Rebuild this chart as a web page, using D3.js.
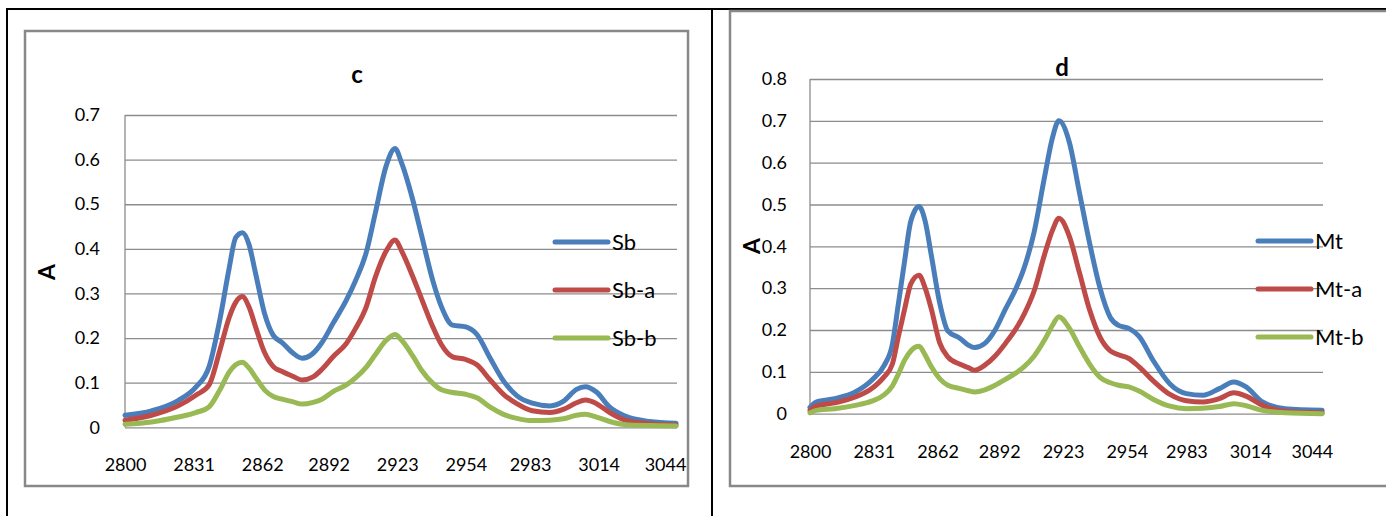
<!DOCTYPE html>
<html>
<head>
<meta charset="utf-8">
<script src="https://cdn.jsdelivr.net/npm/d3@7"></script>
<style>
  body { margin: 0; background: #fff; }
  svg text { font-family: Lato, "Open Sans", sans-serif; fill: #000; }
</style>
</head>
<body>
<svg id="chart" width="1386" height="516"></svg>
<script>
// tick labels shared by both panels
var xTickLabels = [2800, 2831, 2862, 2892, 2923, 2954, 2983, 3014, 3044];
var yTicksC = [0, 0.1, 0.2, 0.3, 0.4, 0.5, 0.6, 0.7];
var yTicksD = [0, 0.1, 0.2, 0.3, 0.4, 0.5, 0.6, 0.7, 0.8];

// panel c : wavenumbers and absorbance of the three samples
var waveC = [2800, 2812, 2824, 2832, 2838, 2843, 2847, 2850, 2853, 2856, 2859, 2863, 2867, 2871, 2876, 2880,
             2885, 2889, 2894, 2900, 2904, 2909, 2913, 2918, 2922, 2925, 2930, 2934, 2939, 2943, 2948, 2954,
             2959, 2965, 2971, 2977, 2984, 2992, 2998, 3004, 3008, 3013, 3019, 3026, 3037, 3049];
var sb  = [0.027, 0.037, 0.060, 0.090, 0.136, 0.245, 0.355, 0.425, 0.436, 0.410, 0.345, 0.256, 0.206, 0.190, 0.166, 0.155,
           0.166, 0.190, 0.233, 0.285, 0.327, 0.392, 0.478, 0.586, 0.625, 0.592, 0.510, 0.430, 0.330, 0.270, 0.229, 0.225,
           0.208, 0.155, 0.104, 0.071, 0.054, 0.048, 0.058, 0.085, 0.091, 0.079, 0.045, 0.025, 0.013, 0.009];
var sbA = [0.016, 0.027, 0.048, 0.072, 0.095, 0.175, 0.245, 0.280, 0.293, 0.270, 0.225, 0.168, 0.136, 0.125, 0.114, 0.106,
           0.113, 0.130, 0.158, 0.188, 0.220, 0.270, 0.335, 0.395, 0.420, 0.395, 0.338, 0.288, 0.226, 0.185, 0.158, 0.152,
           0.140, 0.106, 0.074, 0.053, 0.037, 0.033, 0.040, 0.055, 0.061, 0.053, 0.033, 0.016, 0.008, 0.005];
var sbB = [0.007, 0.012, 0.023, 0.033, 0.046, 0.085, 0.123, 0.140, 0.146, 0.133, 0.112, 0.084, 0.069, 0.063, 0.057, 0.052,
           0.056, 0.063, 0.080, 0.095, 0.110, 0.135, 0.162, 0.195, 0.208, 0.195, 0.160, 0.128, 0.099, 0.084, 0.078, 0.074,
           0.066, 0.045, 0.029, 0.020, 0.015, 0.016, 0.019, 0.027, 0.029, 0.023, 0.013, 0.006, 0.004, 0.003];

// panel d
var waveD = [2800, 2803, 2812, 2822, 2830, 2836, 2840, 2843, 2846, 2849, 2853, 2856, 2859, 2863, 2867, 2873,
             2877, 2880, 2885, 2890, 2895, 2900, 2904, 2909, 2914, 2918, 2921, 2926, 2931, 2936, 2941, 2946,
             2950, 2955, 2960, 2967, 2975, 2983, 2991, 2999, 3006, 3012, 3020, 3031, 3049];
var mt  = [0.015, 0.028, 0.036, 0.052, 0.080, 0.115, 0.165, 0.264, 0.365, 0.460, 0.495, 0.460, 0.378, 0.266, 0.198, 0.180,
           0.164, 0.158, 0.168, 0.200, 0.250, 0.298, 0.347, 0.435, 0.565, 0.662, 0.700, 0.650, 0.528, 0.406, 0.300, 0.230,
           0.211, 0.204, 0.185, 0.126, 0.071, 0.048, 0.044, 0.060, 0.076, 0.064, 0.028, 0.012, 0.008];
var mtA = [0.008, 0.018, 0.026, 0.040, 0.060, 0.088, 0.118, 0.185, 0.250, 0.310, 0.331, 0.300, 0.250, 0.170, 0.136, 0.118,
           0.110, 0.104, 0.116, 0.138, 0.168, 0.202, 0.237, 0.294, 0.380, 0.440, 0.467, 0.425, 0.337, 0.247, 0.183, 0.150,
           0.141, 0.132, 0.112, 0.078, 0.046, 0.031, 0.028, 0.036, 0.050, 0.042, 0.020, 0.006, 0.002];
var mtB = [0.002, 0.008, 0.012, 0.020, 0.030, 0.045, 0.066, 0.095, 0.128, 0.150, 0.161, 0.140, 0.112, 0.084, 0.068, 0.060,
           0.055, 0.052, 0.057, 0.068, 0.082, 0.097, 0.112, 0.138, 0.176, 0.212, 0.232, 0.205, 0.160, 0.118, 0.087, 0.074,
           0.068, 0.064, 0.054, 0.034, 0.018, 0.012, 0.013, 0.017, 0.024, 0.019, 0.008, 0.002, 0.000];

var colors = ["#4a7ebb", "#be4b48", "#98b954"];
var svg = d3.select("#chart");

// black frame of the figure table
svg.append("g").attr("stroke", "#000").attr("stroke-width", 2)
  .selectAll("line")
  .data([[6, 9, 1386, 9], [7, 8, 7, 516], [712, 8, 712, 516]])
  .enter().append("line")
    .attr("x1", function(d) { return d[0]; }).attr("y1", function(d) { return d[1]; })
    .attr("x2", function(d) { return d[2]; }).attr("y2", function(d) { return d[3]; });

function drawPanel(p) {
  // outer chart border
  svg.append("rect")
    .attr("x", p.box[0]).attr("y", p.box[1])
    .attr("width", p.box[2]).attr("height", p.box[3])
    .attr("fill", "none").attr("stroke", "#888").attr("stroke-width", 2.5);

  var width = p.right - p.left,
      height = p.bottom - p.top;
  var g = svg.append("g").attr("transform", "translate(" + p.left + "," + p.top + ")");

  var x = d3.scaleLinear().domain([2800, 3049.4]).range([0, width]);
  var y = d3.scaleLinear().domain([0, p.yMax]).range([height, 0]);

  // gridlines + y labels
  var yAxis = g.append("g")
    .call(d3.axisLeft(y).tickValues(p.yTicks).tickSize(-width).tickPadding(p.yPad)
      .tickFormat(function(d) { return d === 0 ? "0" : d3.format(".1f")(d); }));
  yAxis.select(".domain").remove();
  yAxis.selectAll("line").attr("stroke", "#8c8c8c").attr("stroke-width", 1.3);
  yAxis.selectAll("text").style("font-size", "18px");

  // vertical axis line
  g.append("line").attr("x1", 0).attr("x2", 0).attr("y1", 0).attr("y2", height)
    .attr("stroke", "#8c8c8c").attr("stroke-width", 1.3);

  var xAxis = g.append("g")
    .attr("transform", "translate(0," + height + ")")
    .call(d3.axisBottom(x).tickValues(xTickLabels).tickSize(0).tickPadding(p.xPad)
      .tickFormat(function(d) { return d; }));
  xAxis.select(".domain").remove();
  xAxis.selectAll("text").style("font-size", "18px");

  var line = d3.line()
    .x(function(d) { return x(d[0]); })
    .y(function(d) { return y(d[1]); })
    .curve(d3.curveMonotoneX);

  p.series.forEach(function(s, i) {
    g.append("path")
      .datum(p.wave.map(function(w, j) { return [w, s[j]]; }))
      .attr("fill", "none")
      .attr("stroke", colors[i])
      .attr("stroke-width", 5)
      .attr("stroke-linejoin", "round")
      .attr("stroke-linecap", "round")
      .attr("d", line);
  });

  // title
  svg.append("text").attr("x", p.title[1]).attr("y", p.title[2])
    .attr("text-anchor", "middle").style("font-size", "24px").style("font-weight", "bold")
    .text(p.title[0]);

  // axis title
  svg.append("text")
    .attr("transform", "translate(" + p.yLabel[0] + "," + p.yLabel[1] + ") rotate(-90)")
    .attr("text-anchor", "middle").attr("dy", "0.36em")
    .style("font-size", "23px").style("font-weight", "bold")
    .text("A");

  // legend
  var leg = svg.append("g").selectAll("g")
    .data(p.names)
    .enter().append("g")
      .attr("transform", function(d, i) { return "translate(" + p.legend[0] + "," + (p.legend[1] + i * 48) + ")"; });
  leg.append("line").attr("x1", 0).attr("x2", 53)
    .attr("stroke", function(d, i) { return colors[i]; })
    .attr("stroke-width", 5).attr("stroke-linecap", "round");
  leg.append("text").attr("x", 57).attr("dy", "0.36em")
    .style("font-size", "22px").text(function(d) { return d; });
}

drawPanel({
  box: [25, 31, 663, 455],
  left: 125, right: 677, top: 115, bottom: 427.3,
  yMax: 0.7, yTicks: yTicksC, yPad: 25, xPad: 31,
  wave: waveC, series: [sb, sbA, sbB], names: ["Sb", "Sb-a", "Sb-b"],
  title: ["c", 357, 83], yLabel: [47, 272], legend: [555, 242]
});

drawPanel({
  box: [730, 11, 700, 475],
  left: 810, right: 1323, top: 79, bottom: 413.7,
  yMax: 0.8, yTicks: yTicksD, yPad: 23, xPad: 32,
  wave: waveD, series: [mt, mtA, mtB], names: ["Mt", "Mt-a", "Mt-b"],
  title: ["d", 1062, 76], yLabel: [752, 246], legend: [1258, 241]
});
</script>
</body>
</html>
